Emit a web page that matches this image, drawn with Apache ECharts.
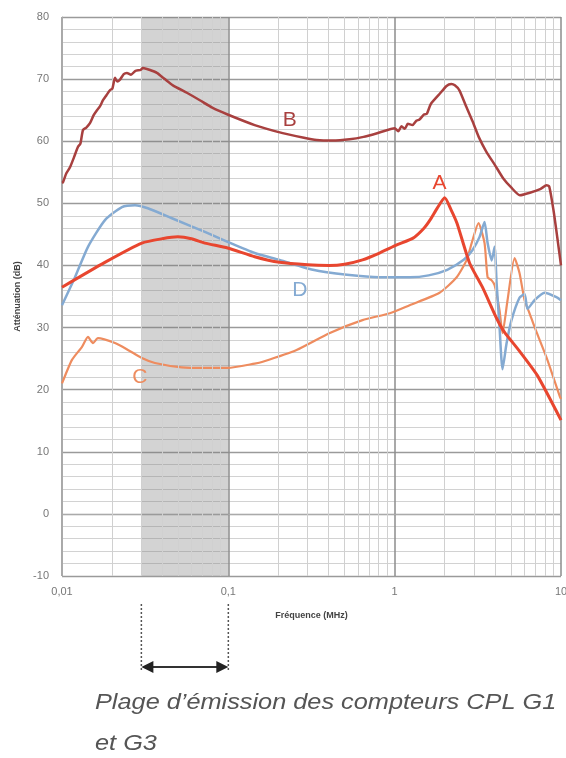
<!DOCTYPE html>
<html>
<head>
<meta charset="utf-8">
<script src="https://cdn.jsdelivr.net/npm/echarts@6/dist/echarts.min.js"></script>
<style>html,body{margin:0;padding:0;background:#fff}#c{width:566px;height:758px}</style>
</head>
<body>
<div id="c"></div>
<script>
// ---- data ----
var xTicks = [0.01, 0.1, 1, 10];
var minorFreqs = [0.02,0.03,0.04,0.05,0.06,0.07,0.08,0.09,0.2,0.3,0.4,0.5,0.6,0.7,0.8,0.9,2,3,4,5,6,7,8,9];
var bandRange = [0.03, 0.1];
var curveB = [[0.01,53.3],[0.01014,53.4],[0.0106,54.8],[0.01117,55.8],[0.0118,57.4],[0.01248,59.1],[0.0129,59.6],[0.01337,61.8],[0.014,62.2],[0.01473,62.9],[0.0155,64.2],[0.01623,65],[0.0169,65.6],[0.01764,66.6],[0.0185,67.4],[0.01942,68.2],[0.0201,68.5],[0.02083,70.2],[0.0215,69.6],[0.0223,69.9],[0.0235,70.8],[0.02456,71],[0.026,70.7],[0.0275,71.3],[0.02976,71.5],[0.03066,71.8],[0.0335,71.5],[0.0372,71],[0.0415,70],[0.0464,69],[0.0563,67.8],[0.0674,66.6],[0.08,65.4],[0.099,64.3],[0.144,62.6],[0.2122,61.3],[0.28,60.6],[0.3398,60.2],[0.42,60.1],[0.5355,60.3],[0.65,60.7],[0.8102,61.4],[1.0,62.1],[1.05,61.6],[1.1,62.4],[1.15,62.0],[1.2,62.8],[1.28,62.6],[1.35,63.3],[1.41,63.5],[1.5,64.3],[1.56,64.4],[1.65,66],[1.86,67.6],[2.05,68.9],[2.19,69.2],[2.3,69.0],[2.45,68.2],[2.7,65.5],[2.94,63.2],[3.2,60.7],[3.56,58.3],[4.0,56.2],[4.5,54],[5.0,52.6],[5.66,51.3],[6.5,51.7],[7.5,52.3],[8.2,52.9],[8.5,52.7],[9.0,49],[9.5,44.5],[10,40]];
var curveA = [[0.01,36.5],[0.0181,40.5],[0.0302,43.6],[0.04,44.3],[0.0497,44.6],[0.06,44.3],[0.0723,43.6],[0.099,42.8],[0.144,41.4],[0.203,40.5],[0.3,40.1],[0.404,40],[0.5,40.2],[0.641,40.9],[0.81,42],[1.03,43.3],[1.29,44.4],[1.5,46],[1.63,47.3],[1.8,49.2],[2.0,50.9],[2.18,49],[2.37,46.8],[2.82,40.4],[3.37,36.5],[4.1,31.5],[4.56,29.3],[5.63,26.2],[7.2,22.3],[10,15.1]];
var curveD = [[0.01,33.6],[0.01197,38.1],[0.01433,43],[0.01813,47.3],[0.02293,49.4],[0.02747,49.7],[0.0328,49.2],[0.0458,47.6],[0.0723,45.4],[0.099,43.8],[0.144,42],[0.203,40.9],[0.3225,39.3],[0.5167,38.5],[0.81,38.1],[1.23,38.1],[1.6,38.4],[2.07,39.3],[2.6,40.9],[2.94,42.5],[3.24,44.6],[3.47,47],[3.62,43.6],[3.83,40.8],[3.99,43],[4.1,37.2],[4.27,30.1],[4.45,23.3],[4.71,27.5],[5.04,31.2],[5.63,34.8],[6.04,35.4],[6.29,33],[6.93,34.4],[7.96,35.6],[9.39,34.9],[10,34.4]];
var curveC = [[0.01,21],[0.01148,24.8],[0.01319,26.9],[0.01433,28.5],[0.01536,27.5],[0.01645,28.3],[0.02083,27.5],[0.02491,26.4],[0.0302,25.1],[0.0362,24.3],[0.0525,23.6],[0.0723,23.5],[0.099,23.5],[0.144,24.2],[0.161,24.5],[0.2571,26.4],[0.4045,29.1],[0.6405,31.2],[0.935,32.3],[1.23,33.6],[1.86,35.6],[2.36,38.1],[2.71,40.9],[2.94,44.1],[3.19,46.8],[3.47,43.6],[3.62,38.1],[3.83,37.6],[3.99,36.8],[4.27,32.8],[4.45,29.1],[4.77,34.4],[5.26,41.2],[5.63,38.8],[6.04,34.4],[6.47,32.3],[6.93,30.1],[8.18,25.2],[9.87,18.8],[10,18.5]];
var labelPos = {B:[0.234,63.4], A:[1.86,53.3], D:[0.269,36], C:[0.0294,22]};
var colors = {A:'#E8462F', B:'#A8403F', C:'#EE8C5F', D:'#84AAD2'};

var chart = echarts.init(document.getElementById('c'));

function curve(name, data, width, z) {
  return {
    name: name, type: 'line', data: data, showSymbol: false, smooth: 0.2, z: z,
    lineStyle: {color: colors[name], width: width}, itemStyle: {color: colors[name]},
    silent: true, animation: false,
    markPoint: {
      symbol: 'circle', symbolSize: 1, itemStyle: {color: 'rgba(0,0,0,0)'}, silent: true,
      data: [{coord: labelPos[name], value: name}],
      label: {show: true, position: 'inside', formatter: name, color: colors[name], fontSize: 21,
        fontFamily: 'Liberation Sans, Arial, sans-serif'}
    }
  };
}

var option = {
  animation: false,
  grid: {left: 62, right: 5, top: 17, bottom: 182, outerBoundsMode: 'none', containLabel: false},
  xAxis: {
    type: 'log', logBase: 10, min: 0.01, max: 10,
    name: 'Fréquence (MHz)', nameLocation: 'middle', nameGap: 35,
    nameTextStyle: {fontSize: 9, fontWeight: 'bold', color: '#444', fontFamily: 'Liberation Sans, Arial, sans-serif'},
    axisLine: {show: true, lineStyle: {color: '#aaa', width: 1}},
    axisTick: {show: false},
    axisLabel: {color: '#777', fontSize: 11, margin: 10, fontFamily: 'Liberation Sans, Arial, sans-serif',
      formatter: function (v) { return String(v).replace('.', ','); }},
    splitLine: {show: true, lineStyle: {color: '#8c8c8c', width: 1.5}}
  },
  yAxis: {
    type: 'value', min: -10, max: 80, interval: 10,
    name: 'Atténuation (dB)', nameLocation: 'middle', nameGap: 40, nameRotate: 90,
    nameTextStyle: {fontSize: 9, fontWeight: 'bold', color: '#444', fontFamily: 'Liberation Sans, Arial, sans-serif'},
    axisLine: {show: true, lineStyle: {color: '#aaa', width: 1}},
    axisTick: {show: false},
    axisLabel: {color: '#777', fontSize: 11, margin: 13, fontFamily: 'Liberation Sans, Arial, sans-serif'},
    splitLine: {show: true, lineStyle: {color: '#9a9a9a', width: 1.3}},
    minorTick: {show: false, splitNumber: 5},
    minorSplitLine: {show: true, lineStyle: {color: '#d2d2d2', width: 1}}
  },
  series: [
    {
      name: 'grid', type: 'line', data: [], z: 1, silent: true,
      markLine: {
        silent: true, symbol: ['none', 'none'], label: {show: false},
        lineStyle: {color: '#d0d0d0', width: 1, type: 'solid'},
        data: minorFreqs.map(function (f) { return {xAxis: f}; })
      },
      markArea: {
        silent: true, itemStyle: {color: 'rgba(120,120,120,0.33)'},
        data: [[{xAxis: bandRange[0]}, {xAxis: bandRange[1]}]]
      }
    },
    curve('C', curveC, 2.2, 3),
    curve('D', curveD, 2.5, 4),
    curve('A', curveA, 3, 5),
    curve('B', curveB, 2.5, 6)
  ]
};
chart.setOption(option);

var x1 = chart.convertToPixel({xAxisIndex: 0}, bandRange[0]);
var x2 = chart.convertToPixel({xAxisIndex: 0}, bandRange[1]);
var ay = 667;
chart.setOption({
  graphic: [
    {type: 'line', shape: {x1: x1, y1: 604, x2: x1, y2: 672}, style: {stroke: '#555', lineWidth: 1.5, lineDash: [2, 2]}},
    {type: 'line', shape: {x1: x2, y1: 604, x2: x2, y2: 672}, style: {stroke: '#555', lineWidth: 1.5, lineDash: [2, 2]}},
    {type: 'line', shape: {x1: x1 + 6, y1: ay, x2: x2 - 6, y2: ay}, style: {stroke: '#333', lineWidth: 2}},
    {type: 'polygon', shape: {points: [[x1, ay], [x1 + 12, ay - 6], [x1 + 12, ay + 6]]}, style: {fill: '#222'}},
    {type: 'polygon', shape: {points: [[x2, ay], [x2 - 12, ay - 6], [x2 - 12, ay + 6]]}, style: {fill: '#222'}},
    {type: 'text', x: 95, y: 692, scaleX: 1.15, style: {text: 'Plage d’émission des compteurs CPL G1', fill: '#555',
      font: 'italic 22px "Liberation Sans", Arial, sans-serif'}},
    {type: 'text', x: 95, y: 733, scaleX: 1.15, style: {text: 'et G3', fill: '#555',
      font: 'italic 22px "Liberation Sans", Arial, sans-serif'}}
  ]
});
</script>
</body>
</html>
